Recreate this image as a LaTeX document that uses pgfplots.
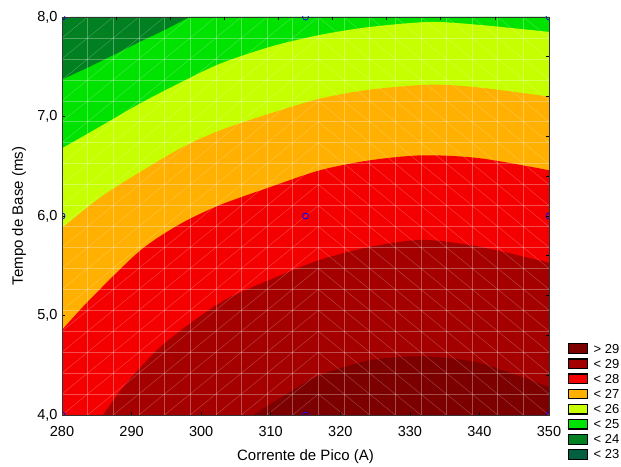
\documentclass[border=0pt]{standalone}
\usepackage{fontspec}
\setmainfont{Liberation Sans}
\usepackage{pgfplots}
\pgfplotsset{compat=1.18}
\definecolor{c29}{RGB}{125,0,0}
\definecolor{cl29}{RGB}{165,0,0}
\definecolor{cl28}{RGB}{245,0,0}
\definecolor{cl27}{RGB}{255,176,0}
\definecolor{cl26}{RGB}{198,255,0}
\definecolor{cl25}{RGB}{0,226,0}
\definecolor{cl24}{RGB}{0,128,32}
\definecolor{cl23}{RGB}{0,96,64}
\tikzset{meshline/.style={white, opacity=0.3, line width=0.5pt},
         meshdiag/.style={white, opacity=0.28, line width=0.4pt}}
\begin{document}
\begin{tikzpicture}
\begin{axis}[
  at={(62pt,51pt)}, anchor=south west,
  width=487pt, height=398pt, scale only axis,
  xmin=280, xmax=350, ymin=4, ymax=8,
  xtick={280,290,300,310,320,330,340,350},
  xticklabels={280,290,300,310,320,330,340,350},
  ytick={4,5,6,7,8},
  yticklabels={{4,0},{5,0},{6,0},{7,0},{8,0}},
  xtick pos=left, ytick pos=left,
  tick align=inside, major tick length=3pt,
  tick style={black, line width=0.6pt},
  axis line style={line width=0.9pt, black!80},
  /pgf/number format/assume math mode=true,
  ticklabel style={font=\fontsize{14.5}{17}\selectfont},
  xticklabel style={yshift=-8pt},
  yticklabel style={xshift=-1pt},
  label style={font=\fontsize{15}{18}\selectfont},
  xlabel={Corrente de Pico (A)},
  ylabel={Tempo de Base (ms)},
  xlabel style={at={(axis description cs:0.5,0)}, anchor=north, yshift=-31pt},
  ylabel style={at={(axis description cs:0,0.5)}, anchor=center, rotate=0, yshift=43pt},
  axis background/.style={fill=cl23},
  clip marker paths=true,
  axis on top,
]
% region z > 23
\addplot[fill=cl24, draw=none] coordinates {(280,7.96) (281.2,8.0) (350,8.0)} \closedcycle;
% region z > 24
\addplot[fill=cl25, draw=none] coordinates {(280,7.37) (284,7.50) (287.5,7.62) (291.2,7.75) (294.8,7.87) (298.4,8.0) (350,8.0)} \closedcycle;
% region z > 25
\addplot[fill=cl26, draw=none, smooth] coordinates {(280,6.68) (285.5,6.90) (291.2,7.13) (297.0,7.34) (302.7,7.53) (309.9,7.70) (317.1,7.82) (324.3,7.90) (332.9,7.95) (340.1,7.92) (350,7.85)} \closedcycle;
% region z > 26
\addplot[fill=cl27, draw=none, smooth] coordinates {(280,5.88) (286.4,6.23) (296.5,6.66) (302.7,6.86) (309.9,7.03) (317.1,7.18) (324.3,7.27) (332.9,7.32) (340.1,7.29) (350,7.20)} \closedcycle;
% region z > 27
\addplot[fill=cl28, draw=none, smooth] coordinates {(280,4.855) (284.0,5.16) (291.2,5.65) (297.0,5.92) (302.7,6.11) (309.9,6.29) (317.1,6.46) (324.3,6.56) (331.9,6.61) (340.1,6.58) (350,6.46)} \closedcycle;
% region z > 28
\addplot[fill=cl29, draw=none, smooth] coordinates {(285.9,4.0) (288.8,4.28) (293.6,4.65) (298.4,4.92) (303.5,5.16) (309.9,5.36) (317.1,5.56) (324.3,5.69) (331.9,5.76) (340.1,5.69) (350,5.53)} \closedcycle;
% region z > 29
\addplot[fill=c29, draw=none, smooth] coordinates {(307.5,4.0) (312.3,4.21) (317.1,4.40) (324.3,4.55) (331.9,4.59) (340.1,4.52) (350,4.28)} \closedcycle;
% mesh: vertical and horizontal lines
\pgfplotsinvokeforeach{1,...,18}{
  \pgfmathsetmacro\mx{280+(#1)*70/19}
  \pgfmathsetmacro\my{4+(#1)*4/19}
  \edef\tmp{\noexpand\draw[meshline] (axis cs:\mx,4) -- (axis cs:\mx,8);
            \noexpand\draw[meshline] (axis cs:280,\my) -- (axis cs:350,\my);}
  \tmp
}
% mesh: diagonals, left part
\pgfplotsinvokeforeach{-10,...,18}{
  \pgfmathsetmacro\ya{4+(#1)*4/19}
  \pgfmathsetmacro\yb{4+(#1+10)*4/19}
  \edef\tmp{\noexpand\draw[meshdiag] (axis cs:280,\ya) -- (axis cs:316.8421,\yb);}
  \tmp
}
% mesh: diagonals, right part
\pgfplotsinvokeforeach{0,...,28}{
  \pgfmathsetmacro\ya{4+(#1)*4/19}
  \pgfmathsetmacro\yb{4+(#1-9)*4/19}
  \edef\tmp{\noexpand\draw[meshdiag] (axis cs:316.8421,\ya) -- (axis cs:350,\yb);}
  \tmp
}
% design points
\addplot[only marks, mark=o, mark size=3pt, blue, line width=0.8pt] coordinates {
  (280,4) (280,6) (280,8) (315,4) (315,6) (315,8) (350,4) (350,6) (350,8)};
\end{axis}
% secondary ticks on top and right
\begin{axis}[
  at={(62pt,51pt)}, anchor=south west,
  width=487pt, height=398pt, scale only axis,
  xmin=280, xmax=350, ymin=4, ymax=8,
  axis line style={draw=none},
  xtick pos=right, ytick pos=right,
  tick align=inside, major tick length=3pt,
  tick style={black, line width=0.6pt},
  xtick={287.7778,295.5556,303.3333,311.1111,318.8889,326.6667,334.4444,342.2222},
  ytick={4.4,4.8,5.2,5.6,6.0,6.4,6.8,7.2,7.6},
  xticklabels={}, yticklabels={},
]
\end{axis}
% legend
\foreach \c/\t [count=\i from 0] in {c29/{> 29},cl29/{< 29},cl28/{< 28},cl27/{< 27},cl26/{< 26},cl25/{< 25},cl24/{< 24},cl23/{< 23}}{
  \pgfmathsetmacro\yc{117.3-15.1*\i}
  \filldraw[fill=\c, draw=black, line width=1.2pt] (568.3pt,\yc pt-4.8pt) rectangle (587.3pt,\yc pt+4.8pt);
  \node[anchor=west, inner sep=0pt, font=\fontsize{13}{15}\selectfont] at (593.5pt,\yc pt) {\t};
}
\pgfresetboundingbox
\path[use as bounding box] (0,0) rectangle (621pt,466pt);
\end{tikzpicture}
\end{document}
